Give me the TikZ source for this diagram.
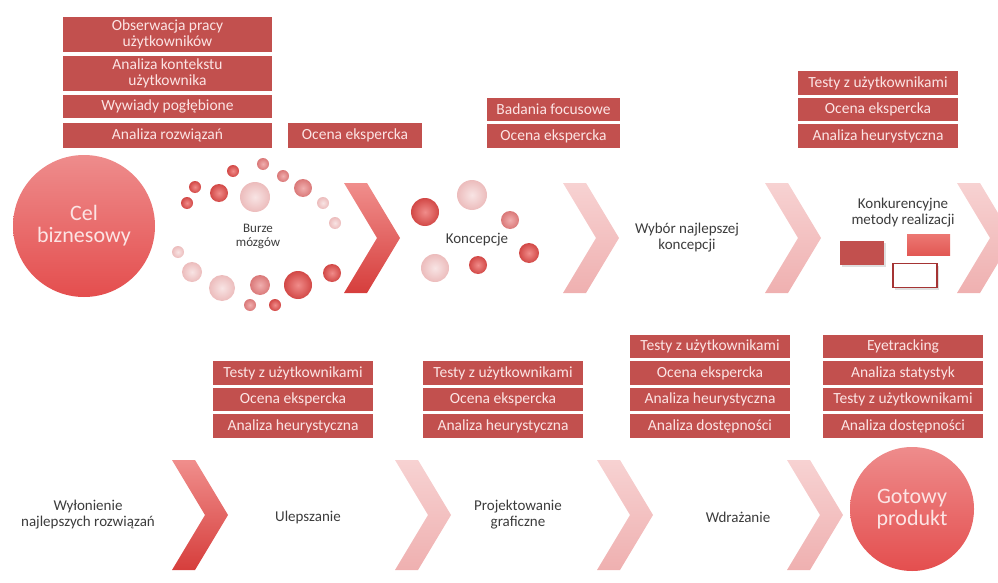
\documentclass[tikz,border=0pt]{standalone}
\usepackage{fontspec}
\setmainfont{Carlito}
\usetikzlibrary{shadows}

\definecolor{boxred}{RGB}{194,80,78}
\definecolor{boxtext}{RGB}{252,228,228}
\definecolor{labelgray}{RGB}{60,60,60}
\definecolor{chevdarkA}{RGB}{240,142,140}
\definecolor{chevdarkB}{RGB}{214,62,60}
\definecolor{chevlightA}{RGB}{247,210,210}
\definecolor{chevlightB}{RGB}{239,176,176}

\tikzset{
  stepbox/.style={rectangle, fill=boxred, text=boxtext, inner sep=0pt,
    font=\fontsize{15.5}{16.5}\selectfont, align=center},
  steptext/.style={text=labelgray, inner sep=0pt, align=center,
    font=\fontsize{15}{16}\selectfont},
  goal/.style={circle, inner sep=0pt, text=boxtext, align=center,
    font=\fontsize{22}{22}\selectfont,
    top color={rgb,255:red,238;green,140;blue,140},
    bottom color={rgb,255:red,228;green,78;blue,78}},
  bubred/.style={circle, inner sep=0pt, shading=radial,
    inner color={rgb,255:red,240;green,140;blue,138},
    outer color={rgb,255:red,210;green,72;blue,70}},
  bubmid/.style={circle, inner sep=0pt, shading=radial,
    inner color={rgb,255:red,240;green,175;blue,175},
    outer color={rgb,255:red,218;green,120;blue,120}},
  bublight/.style={circle, inner sep=0pt, shading=radial,
    inner color={rgb,255:red,248;green,228;blue,228},
    outer color={rgb,255:red,236;green,188;blue,188}},
  chevdark/.style={top color=chevdarkA, bottom color=chevdarkB},
  chevlight/.style={top color=chevlightA, bottom color=chevlightB},
}

% chevron arrow: #1 = left x, #2 = top y, #3 = style
\newcommand\chevronat[3]{%
  \path[#3] (#1,#2) -- ++(23,0) -- ++(33,55) -- ++(-33,55) -- ++(-23,0)
    -- ++(33,-55) -- cycle;}

\begin{document}
\begin{tikzpicture}[x=1pt, y=-1pt]
\useasboundingbox (0,0) rectangle (998,583);

% ---------- upper row ----------
% research methods above the first stage
\node[stepbox, minimum width=209pt, minimum height=35pt] (b1) at (167.5,34.5) {Obserwacja pracy\\użytkowników};
\node[stepbox, minimum width=209pt, minimum height=35pt] (b2) at (167.5,73.5) {Analiza kontekstu\\użytkownika};
\node[stepbox, minimum width=209pt, minimum height=23.5pt] (b3) at (167.5,106.5) {Wywiady pogłębione};
\node[stepbox, minimum width=209pt, minimum height=24pt] (b4) at (167.5,135.5) {Analiza rozwiązań};

\node[stepbox, minimum width=134pt, minimum height=24pt] (o1) at (355,135.5) {Ocena ekspercka};

\node[stepbox, minimum width=133pt, minimum height=23.5pt] (k1) at (553.5,109.5) {Badania focusowe};
\node[stepbox, minimum width=133pt, minimum height=23.5pt] (k2) at (553.5,136) {Ocena ekspercka};

\node[stepbox, minimum width=160pt, minimum height=23.5pt] (r1) at (878,83) {Testy z użytkownikami};
\node[stepbox, minimum width=160pt, minimum height=23.5pt] (r2) at (878,109.5) {Ocena ekspercka};
\node[stepbox, minimum width=160pt, minimum height=23.5pt] (r3) at (878,136) {Analiza heurystyczna};

% business goal
\node[goal, minimum size=142pt] (cel) at (84,226) {Cel\\biznesowy};

% brainstorming bubbles
\foreach \x/\y/\r/\s [count=\i] in {
  263/164/6/bubmid, 233/171/6/bubred, 283/176/6/bubmid, 195/187/6/bubred,
  219/193/9/bubred, 255/197/15/bublight, 303/188/9/bubmid, 187/203/6/bubred,
  323/203/6/bublight, 335/223/6/bublight, 178/252/6/bublight, 192/272/10/bublight,
  222/288/13/bublight, 260/285/10/bubmid, 298/285/14/bubred, 332/273/9/bubred,
  250/305/6/bubmid, 275/305/6/bubred}
  \node[\s, minimum size=2*\r pt] (bz\i) at (\x,\y) {};
\node[steptext, font=\fontsize{13}{14}\selectfont] (burze) at (258,236) {Burze\\mózgów};

\chevronat{344}{183}{chevdark}

% concept bubbles
\foreach \x/\y/\r/\s [count=\i] in {
  472/195/15/bublight, 425/212/14/bubred, 510/220/9/bubmid,
  529/253/10/bubred, 478/265/9/bubred, 435/268/14/bublight}
  \node[\s, minimum size=2*\r pt] (kc\i) at (\x,\y) {};
\node[steptext] (konc) at (477,240) {Koncepcje};

\chevronat{563}{183}{chevlight}

\node[steptext] (wybor) at (687,238) {Wybór najlepszej\\koncepcji};

\chevronat{765}{183}{chevlight}

\node[steptext] (konk) at (903,213) {Konkurencyjne\\metody realizacji};
\node[rectangle, fill=boxred, minimum width=44pt, minimum height=24pt, drop shadow={opacity=0.25}] (m1) at (862,253) {};
\node[rectangle, minimum width=43pt, minimum height=21pt,
  top color={rgb,255:red,236;green,120;blue,115}, bottom color={rgb,255:red,226;green,88;blue,84}] (m2) at (928.5,244.5) {};
\node[rectangle, fill=white, draw={rgb,255:red,165;green,52;blue,52}, line width=1.6pt,
  minimum width=44pt, minimum height=24pt, drop shadow={opacity=0.25}] (m3) at (915,275.5) {};

\chevronat{957}{183}{chevlight}

% ---------- lower row ----------
\node[stepbox, minimum width=160pt, minimum height=23.5pt] (s1a) at (293,373) {Testy z użytkownikami};
\node[stepbox, minimum width=160pt, minimum height=23.5pt] (s1b) at (293,399.5) {Ocena ekspercka};
\node[stepbox, minimum width=160pt, minimum height=23.5pt] (s1c) at (293,426) {Analiza heurystyczna};

\node[stepbox, minimum width=160pt, minimum height=23.5pt] (s2a) at (503,373) {Testy z użytkownikami};
\node[stepbox, minimum width=160pt, minimum height=23.5pt] (s2b) at (503,399.5) {Ocena ekspercka};
\node[stepbox, minimum width=160pt, minimum height=23.5pt] (s2c) at (503,426) {Analiza heurystyczna};

\node[stepbox, minimum width=160pt, minimum height=23.5pt] (s3a) at (710,346.5) {Testy z użytkownikami};
\node[stepbox, minimum width=160pt, minimum height=23.5pt] (s3b) at (710,373) {Ocena ekspercka};
\node[stepbox, minimum width=160pt, minimum height=23.5pt] (s3c) at (710,399.5) {Analiza heurystyczna};
\node[stepbox, minimum width=160pt, minimum height=23.5pt] (s3d) at (710,426) {Analiza dostępności};

\node[stepbox, minimum width=160pt, minimum height=23.5pt] (s4a) at (903,346.5) {Eyetracking};
\node[stepbox, minimum width=160pt, minimum height=23.5pt] (s4b) at (903,373) {Analiza statystyk};
\node[stepbox, minimum width=160pt, minimum height=23.5pt] (s4c) at (903,399.5) {Testy z użytkownikami};
\node[stepbox, minimum width=160pt, minimum height=23.5pt] (s4d) at (903,426) {Analiza dostępności};

\node[steptext] (wyl) at (88,515) {Wyłonienie\\najlepszych rozwiązań};
\chevronat{172}{460}{chevdark}
\node[steptext] (ulep) at (308,517) {Ulepszanie};
\chevronat{395}{460}{chevlight}
\node[steptext] (proj) at (518,515) {Projektowanie\\graficzne};
\chevronat{597}{460}{chevlight}
\node[steptext] (wdr) at (738,517) {Wdrażanie};
\chevronat{787}{460}{chevlight}

\node[goal, minimum size=124pt] (gotowy) at (912,509) {Gotowy\\produkt};

\end{tikzpicture}
\end{document}
